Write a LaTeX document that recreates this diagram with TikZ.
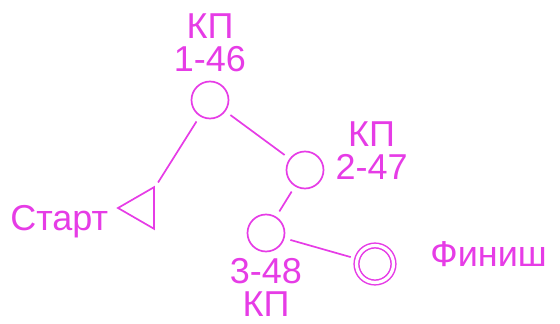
\documentclass[tikz,border=0pt]{standalone}
\usepackage{fontspec}
\setmainfont{Liberation Sans}
\usetikzlibrary{positioning,shapes.geometric}
\definecolor{routepink}{RGB}{230,60,230}

\begin{document}
\begin{tikzpicture}[
    x=1pt, y=-1pt,
    kp/.style={draw=routepink, circle, line width=1.7pt, minimum size=37pt, inner sep=0pt},
    startmark/.style={draw=routepink, regular polygon, regular polygon sides=3, shape border rotate=90, line width=1.7pt, minimum size=48pt, inner sep=0pt},
    finishmark/.style={draw=routepink, circle, double, line width=1.5pt, double distance=3.2pt, minimum size=37pt, inner sep=0pt},
    tag/.style={text=routepink, align=center, inner sep=0pt, font=\fontsize{36}{33}\selectfont},
    link/.style={draw=routepink, line width=1.7pt, shorten >=6pt, shorten <=6pt},
  ]
    \useasboundingbox (0,0) rectangle (560,324);

    % Marks
    \node[kp] (cp1) at (210,100) {};
    \node[kp] (cp2) at (305,170) {};
    \node[kp] (cp3) at (266,233) {};
    \node[startmark] (start) at (142,208) {};
    \node[finishmark] (finish) at (375,264) {};

    % Route
    \draw[link] (start) -- (cp1);
    \draw[link] (cp1) -- (cp2);
    \draw[link] (cp2) -- (cp3);
    \draw[link] (cp3) -- (finish);

    % Labels
    \node[tag, above=9pt of cp1] (cp1tag) {КП\\1-46};
    \node[tag, right=11pt of cp2, yshift=19pt] (cp2tag) {КП\\2-47};
    \node[tag, below=6pt of cp3] (cp3tag) {3-48\\КП};
    \node[tag, left=8pt of start, yshift=-14pt] (starttag) {Старт};
    \node[tag, right=36pt of finish, yshift=10pt] (finishtag) {Финиш};
  \end{tikzpicture}
\end{document}
